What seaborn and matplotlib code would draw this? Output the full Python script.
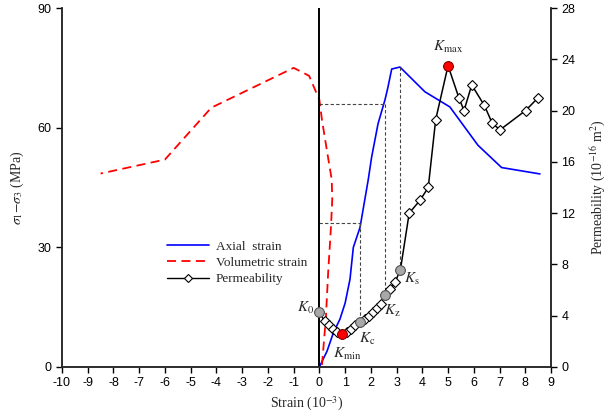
import numpy as np
import seaborn as sns
import matplotlib.pyplot as plt

# data
axial_strain = [0.0, 0.3, 0.54, 0.8, 1.0, 1.19, 1.32, 1.58, 1.9, 2.03, 2.28, 2.55, 2.66, 2.81,
                3.13, 4.1, 5.07, 6.16, 7.08, 8.57]
axial_stress = [0.0, 4.0, 8.5, 12.0, 16.0, 22.0, 30.0, 35.0, 47.0, 52.6, 61.0, 67.0, 70.0, 74.7,
                75.2, 69.0, 65.2, 55.6, 50.0, 48.4]

vol_strain = [0.1, 0.14, 0.25, 0.34, 0.45, 0.5, 0.48, 0.3, 0.1, 0.0, -0.4, -1.0, -4.2, -6.0, -8.5]
vol_stress = [0.5, 3.5, 12.0, 23.5, 35.0, 42.0, 47.0, 54.0, 62.0, 67.0, 73.0, 75.0, 65.0, 52.0, 48.5]

perm_strain = [0.0, 0.2, 0.36, 0.52, 0.68, 0.87, 1.07, 1.24, 1.4, 1.58, 1.78, 1.94, 2.08, 2.24,
               2.38, 2.55, 2.76, 2.94, 3.15, 3.49, 3.91, 4.23, 4.52, 5.0, 5.42, 5.62, 5.92,
               6.41, 6.72, 7.02, 8.01, 8.5]
perm_value = [4.25, 3.6, 3.28, 3.0, 2.75, 2.55, 2.75, 3.0, 3.28, 3.5, 3.72, 4.0, 4.25, 4.6,
              4.9, 5.6, 6.05, 6.6, 7.6, 12.0, 13.0, 14.0, 19.3, 23.5, 21.0, 20.0, 22.0,
              20.4, 19.0, 18.5, 20.0, 21.0]

gray_idx = [0, 9, 15, 18]        # K0, Kc, Kz, Ks
red_idx = [5, 23]                # Kmin, Kmax
labels = ['$K_0$', '$K_{\\rm c}$', '$K_{\\rm z}$', '$K_{\\rm s}$', '$K_{\\rm min}$', '$K_{\\rm max}$']
label_pos = [(-0.2, 4.6), (1.85, 2.2), (2.85, 4.4), (3.6, 6.9), (1.1, 1.0), (5.0, 25.0)]
label_ha = ['right', 'center', 'center', 'center', 'center', 'center']

sns.set_style("ticks")
plt.rcParams['font.family'] = ['Liberation Sans', 'DejaVu Sans']
plt.rcParams['mathtext.fontset'] = 'stix'
plt.rcParams['axes.unicode_minus'] = False

fig = plt.figure(figsize=(6.1, 4.15), dpi=100)
ax = fig.add_axes([0.1016, 0.1157, 0.8017, 0.865])
ax2 = ax.twinx()

sns.lineplot(x=axial_strain, y=axial_stress, sort=False, estimator=None, color='#0000ff',
             lw=1.2, ax=ax)
sns.lineplot(x=vol_strain, y=vol_stress, sort=False, estimator=None, color='#ff0000',
             lw=1.3, linestyle=(0, (5, 3)), ax=ax)

# reference dashed guides (stress axis units, permeability converted)
scale = 90 / 28
dash = dict(color='#444444', lw=0.8, linestyle=(0, (3, 2)))
ax.plot([0, 1.58], [36, 36], **dash)
ax.plot([1.58, 1.58], [36, perm_value[9] * scale], **dash)
ax.plot([0, 2.55], [66, 66], **dash)
ax.plot([2.55, 2.55], [66, perm_value[15] * scale], **dash)
ax.plot([3.13, 3.13], [75.2, perm_value[18] * scale], **dash)
ax.axvline(0, color='black', lw=1.4)

sns.lineplot(x=perm_strain, y=perm_value, sort=False, estimator=None, color='black', lw=1.1,
             marker='D', markersize=4.8, markerfacecolor='white', markeredgecolor='black',
             markeredgewidth=0.8, ax=ax2)
ax2.plot([perm_strain[i] for i in gray_idx], [perm_value[i] for i in gray_idx], 'o',
         ms=7, mfc='#a8a8a8', mec='#555555', mew=0.8)
ax2.plot([perm_strain[i] for i in red_idx], [perm_value[i] for i in red_idx], 'o',
         ms=7, mfc='#ff0000', mec='#880000', mew=0.8)

for lab, (px, py), ha in zip(labels, label_pos, label_ha):
    ax2.text(px, py, lab, fontsize=11, ha=ha, va='center', family='Liberation Serif')

ax.set_xlim(-10, 9)
ax.set_ylim(0, 90)
ax2.set_ylim(0, 28)
ax.set_xticks(range(-10, 10))
ax.set_yticks([0, 30, 60, 90])
ax2.set_yticks(range(0, 29, 4))
for a in (ax, ax2):
    a.spines['top'].set_visible(False)
    a.tick_params(direction='out', length=4, width=1, labelsize=9, colors='black')
    for s in a.spines.values():
        s.set_linewidth(1.1)

serif = dict(family='Liberation Serif', fontsize=10)
ax.set_xlabel('Strain (10$^{-3}$)', labelpad=4, **serif)
ax.set_ylabel(r'$\sigma_1$$-$$\sigma_3$ (MPa)', labelpad=8, **serif)
ax2.set_ylabel('Permeability (10$^{-16}$ m$^{2}$)', labelpad=10, **serif)

handles = [plt.Line2D([], [], color='#0000ff', lw=1.2),
           plt.Line2D([], [], color='#ff0000', lw=1.3, linestyle=(0, (5, 3))),
           plt.Line2D([], [], color='black', lw=1.0, marker='D', ms=3.8, mfc='white', mec='black',
                      mew=0.8)]
ax2.legend(handles, ['Axial  strain', 'Volumetric strain', 'Permeability'],
           loc='upper left', bbox_to_anchor=(0.19, 0.385), frameon=False,
           prop={'family': 'Liberation Serif', 'size': 9.5}, handlelength=3.2,
           labelspacing=0.3, handletextpad=0.5)

fig.savefig('out.png', dpi=100)
